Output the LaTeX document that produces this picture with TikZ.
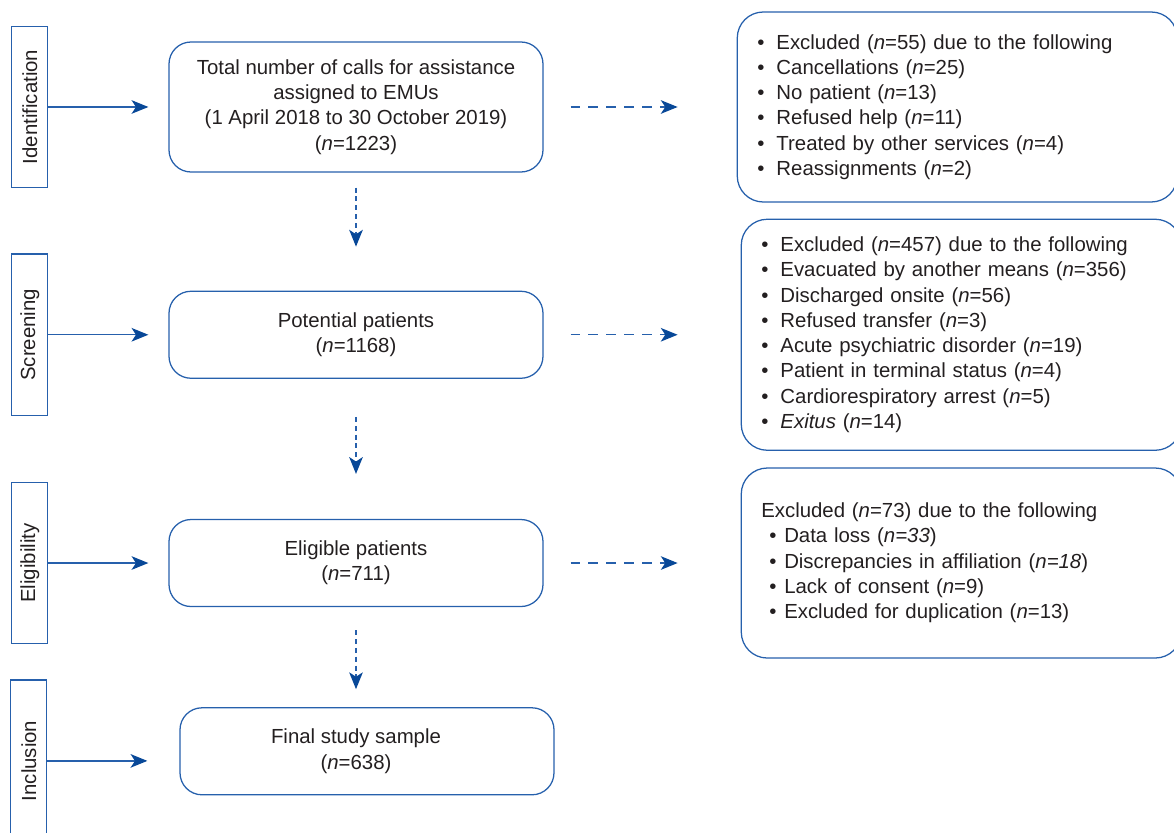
\documentclass[tikz,border=0pt]{standalone}
\usepackage{fontspec}
\setmainfont{Liberation Sans}
\usetikzlibrary{positioning,arrows.meta}
\definecolor{flowblue}{RGB}{38,96,172}
\definecolor{tipblue}{RGB}{8,72,152}
\definecolor{flowtext}{RGB}{35,31,32}
\newcommand{\bitem}{\makebox[0.48cm][l]{\textbullet}}
\newcommand{\bsubitem}{\hspace*{0.2cm}\makebox[0.375cm][l]{\textbullet}}
\tikzstyle{stage}=[rectangle, draw=flowblue, line width=0.9pt, minimum width=0.9cm,
        minimum height=4.04cm, inner sep=0pt, text=flowtext]
\tikzstyle{flowbox}=[rectangle, draw=flowblue, line width=0.9pt, rounded corners=0.55cm,
        minimum width=9.35cm, minimum height=2.175cm, align=center, text=flowtext]
\tikzstyle{excbox}=[rectangle, draw=flowblue, line width=0.9pt, rounded corners=0.65cm,
        text width=10cm, inner xsep=0.5cm, align=left, text=flowtext]
\tikzstyle{stagearrow}=[draw=flowblue, line width=0.9pt,
        -{Stealth[length=0.42cm, width=0.34cm, inset=0.11cm, color=tipblue]}]
\tikzstyle{downarrow}=[stagearrow, dash pattern=on 3.5pt off 2.8pt]
\tikzstyle{excarrow}=[stagearrow, dash pattern=on 7pt off 5.7pt,
        shorten <=0.675cm]

\begin{document}
\begin{tikzpicture}[font=\fontsize{14.5}{18}\selectfont]
        \clip (0,0) rectangle (29.35,-20.825);
        \node (Total) [flowbox, minimum height=3.25cm] at (8.9,-2.675)
        {
          Total number of calls for assistance\\
          assigned to EMUs\\
          (1 April 2018 to 30 October 2019)\\
          (\textit{n}=1223)
        };
        \node (Potential) [flowbox, below=2.95cm of Total]
        {
          Potential patients\\
          (\textit{n}=1168)
        };
        \node (Eligible) [flowbox, below=3.5cm of Potential]
        {
          Eligible patients\\
          (\textit{n}=711)
        };
        \node (Final) [flowbox, below=2.5cm of Eligible, xshift=0.275cm]
        {
          \hspace*{-0.55cm}Final study sample\\
          \hspace*{-0.55cm}(\textit{n}=638)
        };

        \node (Identification) [stage, left=3.0cm of Total] {\rotatebox{90}{Identification}};
        \node (Screening) [stage, left=3.0cm of Potential] {\rotatebox{90}{Screening}};
        \node (Eligibility) [stage, left=3.0cm of Eligible] {\rotatebox{90}{Eligibility}};
        \node (Inclusion) [stage, left=3.3cm of Final, yshift=-0.24cm] {\rotatebox{90}{Inclusion}};

        \node (ExcCalls) [excbox, minimum height=4.75cm, right=4.825cm of Total]
        {
          \bitem Excluded (\textit{n}=55) due to the following\\
          \bitem Cancellations (\textit{n}=25)\\
          \bitem No patient (\textit{n}=13)\\
          \bitem Refused help (\textit{n}=11)\\
          \bitem Treated by other services (\textit{n}=4)\\
          \bitem Reassignments (\textit{n}=2)
        };
        \node (ExcPotential) [excbox, minimum height=5.775cm, right=4.925cm of Potential]
        {
          \bitem Excluded (\textit{n}=457) due to the following\\
          \bitem Evacuated by another means (\textit{n}=356)\\
          \bitem Discharged onsite (\textit{n}=56)\\
          \bitem Refused transfer (\textit{n}=3)\\
          \bitem Acute psychiatric disorder (\textit{n}=19)\\
          \bitem Patient in terminal status (\textit{n}=4)\\
          \bitem Cardiorespiratory arrest (\textit{n}=5)\\
          \bitem \textit{Exitus} (\textit{n}=14)
        };
        \node (ExcEligible) [excbox, minimum height=4.75cm, right=4.925cm of Eligible]
        {
          Excluded (\textit{n}=73) due to the following\\
          \bsubitem Data loss (\textit{n=33})\\
          \bsubitem Discrepancies in affiliation (\textit{n=18})\\
          \bsubitem Lack of consent (\textit{n}=9)\\
          \bsubitem Excluded for duplication (\textit{n}=13)
        };

        \draw [stagearrow, shorten >=0.5cm] (Identification.east) -- (Identification.east -| Total.west);
        \draw [stagearrow, shorten >=0.5cm] (Screening.east) -- (Screening.east -| Potential.west);
        \draw [stagearrow, shorten >=0.5cm] (Eligibility.east) -- (Eligibility.east -| Eligible.west);
        \draw [stagearrow, shorten >=0.8cm] (Inclusion.east) -- (Inclusion.east -| Final.west);

        \draw [downarrow, shorten <=0.375cm, shorten >=1.1cm] (Total.south) -- (Potential.north);
        \draw [downarrow, shorten <=0.95cm, shorten >=1.125cm] (Potential.south) -- (Eligible.north);
        \draw [downarrow, shorten <=0.575cm, shorten >=0.45cm] (Eligible.south) -- (Eligible.south |- Final.north);

        \draw [excarrow, shorten >=1.475cm] (Total.east) -- (ExcCalls.west);
        \draw [excarrow, shorten >=1.575cm] (Potential.east) -- (ExcPotential.west);
        \draw [excarrow, shorten >=1.575cm] (Eligible.east) -- (ExcEligible.west);
      \end{tikzpicture}
\end{document}
